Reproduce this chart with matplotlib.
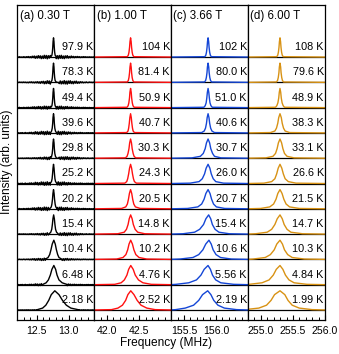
import numpy as np
import matplotlib
matplotlib.use("Agg")
import matplotlib.pyplot as plt
from matplotlib.ticker import MultipleLocator, FixedLocator

plt.rcParams['font.family'] = ['Liberation Sans', 'DejaVu Sans']

# ---------------- data ----------------
fields = ["(a) 0.30 T", "(b) 1.00 T", "(c) 3.66 T", "(d) 6.00 T"]
xlims = [(12.2, 13.4), (41.8, 43.0), (155.3, 156.5), (254.8, 256.0)]
major_ticks = [[12.5, 13.0], [42.0, 42.5], [155.5, 156.0], [255.0, 255.5, 256.0]]
tick_labels = [["12.5", "13.0"], ["42.0", "42.5"], ["155.5", "156.0"], ["255.0", "255.5", "256.0"]]
colors = ["black", "#ff1010", "#1446d6", "#d89214"]

# normalised intensity levels at which the line widths were read (fraction of peak)
levels = [0.02, 0.1, 0.25, 0.5, 0.8]

# panel (a)
a_temps = ["97.9 K", "78.3 K", "49.4 K", "39.6 K", "29.8 K", "25.2 K",
           "20.2 K", "15.4 K", "10.4 K", "6.48 K", "2.18 K"]
a_center = [12.765, 12.765, 12.765, 12.765, 12.765, 12.765, 12.765, 12.767, 12.77, 12.77, 12.785]
a_left = [[0.04, 0.025, 0.018, 0.012, 0.007],
          [0.04, 0.025, 0.018, 0.012, 0.007],
          [0.04, 0.025, 0.018, 0.012, 0.007],
          [0.045, 0.03, 0.02, 0.013, 0.008],
          [0.045, 0.03, 0.02, 0.013, 0.008],
          [0.05, 0.032, 0.022, 0.015, 0.008],
          [0.055, 0.035, 0.025, 0.016, 0.009],
          [0.07, 0.045, 0.03, 0.02, 0.011],
          [0.13, 0.09, 0.065, 0.045, 0.025],
          [0.17, 0.12, 0.085, 0.055, 0.03],
          [0.27, 0.19, 0.14, 0.095, 0.055]]
a_right = [[0.04, 0.025, 0.018, 0.012, 0.007],
           [0.04, 0.025, 0.018, 0.012, 0.007],
           [0.04, 0.025, 0.018, 0.012, 0.007],
           [0.045, 0.03, 0.02, 0.013, 0.008],
           [0.045, 0.03, 0.02, 0.013, 0.008],
           [0.05, 0.032, 0.022, 0.015, 0.008],
           [0.055, 0.035, 0.025, 0.016, 0.009],
           [0.07, 0.045, 0.03, 0.02, 0.011],
           [0.12, 0.08, 0.06, 0.04, 0.022],
           [0.2, 0.13, 0.08, 0.05, 0.028],
           [0.36, 0.25, 0.18, 0.12, 0.065]]
a_noise_amp = [0.07, 0.07, 0.06, 0.07, 0.06, 0.07, 0.07, 0.06, 0.05, 0.05, 0.03]
# hand-read baseline fluctuation of the 0.30 T spectra (one value per pixel column)
a_noise = [0.1, -0.15, 0.2, -0.1, 0.05, -0.2, 0.15, 0.1, -0.25, 0.2, -0.1, 0.3, -0.3,
           0.25, -0.4, 0.5, -0.3, 0.6, -0.7, 0.5, -0.6, 0.8, -0.5, 0.7, -0.9, 0.6,
           -0.8, 1.0, -0.7, 0.9, -1.0, 0.8, -0.6, 0.9, -0.8, 0.7, 0.0, 0.0, 0.0,
           -0.9, 0.8, -1.0, 0.9, -0.7, 1.0, -0.8, 0.6, -0.9, 0.7, -0.5, 0.8, -0.6,
           0.4, -0.5, 0.6, -0.3, 0.4, -0.4, 0.3, -0.25, 0.35, -0.2, 0.25, -0.3,
           0.15, -0.2, 0.25, -0.1, 0.2, -0.15, 0.1, -0.2, 0.15, -0.1, 0.05, -0.15,
           0.1, -0.05]

# panel (b)
b_temps = ["104 K", "81.4 K", "50.9 K", "40.7 K", "30.3 K", "24.3 K",
           "20.5 K", "14.8 K", "10.2 K", "4.76 K", "2.52 K"]
b_center = [42.367] * 7 + [42.368, 42.369, 42.37, 42.37]
b_left = [[0.05, 0.035, 0.025, 0.016, 0.009],
          [0.05, 0.035, 0.025, 0.016, 0.009],
          [0.055, 0.038, 0.027, 0.017, 0.01],
          [0.06, 0.04, 0.03, 0.02, 0.011],
          [0.08, 0.055, 0.04, 0.025, 0.014],
          [0.09, 0.06, 0.045, 0.03, 0.016],
          [0.14, 0.075, 0.05, 0.033, 0.018],
          [0.2, 0.1, 0.065, 0.04, 0.022],
          [0.22, 0.12, 0.075, 0.047, 0.026],
          [0.25, 0.15, 0.1, 0.06, 0.033],
          [0.3, 0.2, 0.13, 0.08, 0.045]]
b_right = [[0.05, 0.035, 0.025, 0.016, 0.009],
           [0.05, 0.035, 0.025, 0.016, 0.009],
           [0.055, 0.038, 0.027, 0.017, 0.01],
           [0.06, 0.04, 0.03, 0.02, 0.011],
           [0.08, 0.055, 0.04, 0.025, 0.014],
           [0.09, 0.06, 0.045, 0.03, 0.016],
           [0.15, 0.075, 0.05, 0.033, 0.018],
           [0.22, 0.11, 0.07, 0.042, 0.023],
           [0.25, 0.13, 0.08, 0.05, 0.027],
           [0.32, 0.19, 0.12, 0.07, 0.038],
           [0.38, 0.25, 0.16, 0.1, 0.05]]

# panel (c)
c_temps = ["102 K", "80.0 K", "51.0 K", "40.6 K", "30.7 K", "26.0 K",
           "20.7 K", "15.4 K", "10.6 K", "5.56 K", "2.19 K"]
c_center = [155.876] * 7 + [155.885, 155.89, 155.875, 155.87]
c_left = [[0.05, 0.035, 0.025, 0.016, 0.009],
          [0.055, 0.038, 0.027, 0.017, 0.01],
          [0.065, 0.045, 0.03, 0.02, 0.011],
          [0.1, 0.06, 0.04, 0.025, 0.014],
          [0.25, 0.12, 0.075, 0.045, 0.025],
          [0.28, 0.14, 0.09, 0.055, 0.03],
          [0.32, 0.16, 0.1, 0.062, 0.034],
          [0.4, 0.22, 0.14, 0.08, 0.043],
          [0.45, 0.25, 0.16, 0.095, 0.05],
          [0.5, 0.3, 0.18, 0.11, 0.06],
          [0.5, 0.35, 0.22, 0.14, 0.08]]
c_right = [[0.05, 0.035, 0.025, 0.016, 0.009],
           [0.055, 0.038, 0.027, 0.017, 0.01],
           [0.065, 0.045, 0.03, 0.02, 0.011],
           [0.1, 0.06, 0.04, 0.025, 0.014],
           [0.2, 0.1, 0.07, 0.042, 0.024],
           [0.24, 0.12, 0.08, 0.05, 0.028],
           [0.26, 0.13, 0.085, 0.055, 0.03],
           [0.32, 0.16, 0.1, 0.058, 0.032],
           [0.35, 0.18, 0.11, 0.065, 0.035],
           [0.4, 0.2, 0.12, 0.07, 0.038],
           [0.45, 0.26, 0.16, 0.095, 0.05]]

# panel (d)
d_temps = ["108 K", "79.6 K", "48.9 K", "38.3 K", "33.1 K", "26.6 K",
           "21.5 K", "14.7 K", "10.3 K", "4.84 K", "1.99 K"]
d_center = [255.298] * 11
d_left = [[0.05, 0.035, 0.025, 0.016, 0.009],
          [0.055, 0.038, 0.027, 0.017, 0.01],
          [0.07, 0.05, 0.033, 0.02, 0.011],
          [0.15, 0.08, 0.055, 0.035, 0.02],
          [0.22, 0.11, 0.07, 0.045, 0.025],
          [0.25, 0.13, 0.08, 0.052, 0.028],
          [0.3, 0.16, 0.1, 0.062, 0.034],
          [0.38, 0.2, 0.13, 0.08, 0.043],
          [0.42, 0.23, 0.15, 0.09, 0.05],
          [0.48, 0.28, 0.17, 0.105, 0.058],
          [0.55, 0.33, 0.21, 0.14, 0.085]]
d_right = [[0.05, 0.035, 0.025, 0.016, 0.009],
           [0.055, 0.038, 0.027, 0.017, 0.01],
           [0.07, 0.05, 0.033, 0.02, 0.011],
           [0.15, 0.08, 0.055, 0.035, 0.02],
           [0.22, 0.11, 0.07, 0.045, 0.025],
           [0.25, 0.13, 0.08, 0.052, 0.028],
           [0.3, 0.15, 0.095, 0.06, 0.032],
           [0.35, 0.17, 0.11, 0.065, 0.035],
           [0.38, 0.19, 0.12, 0.07, 0.038],
           [0.42, 0.22, 0.14, 0.085, 0.045],
           [0.5, 0.3, 0.19, 0.125, 0.075]]

panels = [
    (a_temps, a_center, a_left, a_right),
    (b_temps, b_center, b_left, b_right),
    (c_temps, c_center, c_left, c_right),
    (d_temps, d_center, d_left, d_right),
]

peak_height = 0.76   # peak height relative to the vertical offset between spectra
n_rows = len(a_temps)

# ---------------- figure ----------------
fig = plt.figure(figsize=(3.39, 3.54), dpi=100)
L, R, B, T = 17.3 / 339, 325 / 339, 1 - 320 / 354, 1 - 4.7 / 354
gs = fig.add_gridspec(1, 4, left=L, right=R, bottom=B, top=T, wspace=0)

for p, (temps, centers, lefts, rights) in enumerate(panels):
    ax = fig.add_subplot(gs[0, p])
    x0, x1 = xlims[p]
    col = colors[p]
    for i in range(n_rows):
        off = n_rows - 1 - i
        c = centers[i]
        lw_l = lefts[i]
        lw_r = rights[i]
        px = [c - w for w in lw_l] + [c] + [c + w for w in lw_r[::-1]]
        py = [lv for lv in levels] + [1.0] + [lv for lv in levels[::-1]]
        py = [off + peak_height * v for v in py]
        if p == 0:
            nx = np.linspace(x0, x1, len(a_noise))
            sgn = 1 if i % 2 == 0 else -1
            vals = a_noise if i % 3 != 1 else a_noise[::-1]
            ny = [off + sgn * a_noise_amp[i] * v for v in vals]
            xs = [x for x in nx if x < px[0]] + px + [x for x in nx if x > px[-1]]
            ys = [y for x, y in zip(nx, ny) if x < px[0]] + py + \
                 [y for x, y in zip(nx, ny) if x > px[-1]]
        else:
            xs = [x0 - 0.02] + px + [x1 + 0.02]
            ys = [off] + py + [off]
        ax.axhline(off, color="black", lw=0.9, zorder=1)
        ax.plot(xs, ys, color=col, lw=1.0, zorder=2)
        ax.text(0.985, off + 0.4, temps[i], transform=ax.get_yaxis_transform(),
                ha="right", va="center", fontsize=7.8)
    ax.set_xlim(x0, x1)
    ax.set_ylim(-0.395, 12.07)
    ax.set_yticks([])
    ax.xaxis.set_major_locator(FixedLocator(major_ticks[p]))
    ax.set_xticklabels(tick_labels[p])
    ax.xaxis.set_minor_locator(MultipleLocator(0.1))
    ax.tick_params(axis="x", which="major", direction="in", length=3.5, width=0.8,
                   labelsize=7.6, pad=4)
    ax.tick_params(axis="x", which="minor", direction="in", length=2, width=0.7)
    for s in ax.spines.values():
        s.set_linewidth(0.9)
    ax.text(0.03, 0.964, fields[p], transform=ax.transAxes, ha="left", va="center",
            fontsize=8.3)

fig.text(166.5 / 339, 1 - 343 / 354, "Frequency (MHz)", ha="center", va="center", fontsize=8.6)
fig.text(7.5 / 339, 1 - 162 / 354, "Intensity (arb. units)", ha="center", va="center",
         rotation=90, fontsize=8.6)

fig.savefig("out.png", dpi=100)
